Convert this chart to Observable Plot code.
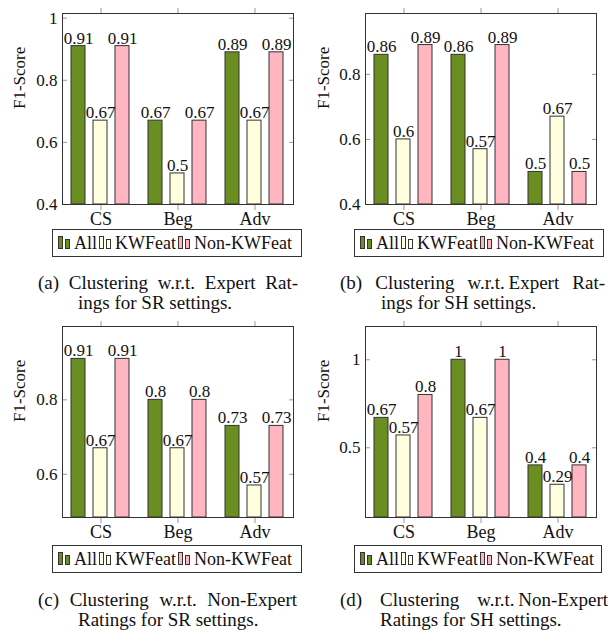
<!DOCTYPE html>
<html><head><meta charset="utf-8">
<script src="https://cdn.jsdelivr.net/npm/d3@7"></script>
<script src="https://cdn.jsdelivr.net/npm/@observablehq/plot@0.6"></script>
<style>
body{margin:0;background:#fff;font-family:"Liberation Serif","DejaVu Serif",serif;color:#111}
#root{position:relative;width:608px;height:635px;overflow:hidden}
.panel{position:absolute;width:304px;height:322px}
.panel svg{position:absolute;left:0;top:0;overflow:visible}
.legend{position:absolute;height:28px;border:1px solid #333;box-sizing:border-box;display:flex;align-items:center;padding-left:5px;font-size:18px;white-space:nowrap}
.ic{display:inline-flex;align-items:flex-end;height:13px;margin-right:4px;margin-top:-2px}
.ic i{display:inline-block;border:1px solid #333;box-sizing:border-box;width:5px}
.ic i+i{margin-left:2px}
.lt{margin-right:2px}
.caption{position:absolute;font-size:19px;line-height:20px}
.caption .l1{text-align:justify;text-align-last:justify;white-space:normal}
.caption .l2{white-space:nowrap}
</style></head><body><div id="root"></div>
<script>
// ---- data ----
const categories = ["CS", "Beg", "Adv"];
const seriesNames = ["All", "KWFeat", "Non-KWFeat"];
const seriesColors = ["#6b8e23", "#ffffe0", "#ffb6c1"];

// values per series, in category order CS, Beg, Adv
const a_All = [0.91, 0.67, 0.89];
const a_KWFeat = [0.67, 0.5, 0.67];
const a_NonKWFeat = [0.91, 0.67, 0.89];

const b_All = [0.86, 0.86, 0.5];
const b_KWFeat = [0.6, 0.57, 0.67];
const b_NonKWFeat = [0.89, 0.89, 0.5];

const c_All = [0.91, 0.8, 0.73];
const c_KWFeat = [0.67, 0.67, 0.57];
const c_NonKWFeat = [0.91, 0.8, 0.73];

const d_All = [0.67, 1, 0.4];
const d_KWFeat = [0.57, 0.67, 0.29];
const d_NonKWFeat = [0.8, 1, 0.4];

const yTicksA = [0.4, 0.6, 0.8, 1];
const yTicksB = [0.4, 0.6, 0.8];
const yTicksC = [0.6, 0.8];
const yTicksD = [0.5, 1];

const yLabel = "F1-Score";
const captionLine1 = ["(a) Clustering w.r.t. Expert Rat-", "(b) Clustering w.r.t.\u2009Expert Rat-", "(c) Clustering w.r.t. Non-Expert", "(d) Clustering w.r.t.\u2009Non-Expert"];
const captionLine2 = ["ings for SR settings.", "ings for SH settings.", "Ratings for SR settings.", "Ratings for SH settings."];

// ---- layout ----
const panels = [
  {series: [a_All, a_KWFeat, a_NonKWFeat], ticks: yTicksA, domain: [0.4, 1.015], left: 0, top: 0, ml: 61, mr: 11, legL: 52, legT: 229, legW: 250, capL: 38, capW: 260, indent: 40, capT: 273},
  {series: [b_All, b_KWFeat, b_NonKWFeat], ticks: yTicksB, domain: [0.4, 0.987], left: 304, top: 0, ml: 60, mr: 11, legL: 50, legT: 229, legW: 250, capL: 36, capW: 265, indent: 41, capT: 273},
  {series: [c_All, c_KWFeat, c_NonKWFeat], ticks: yTicksC, domain: [0.484, 0.997], left: 0, top: 313, ml: 61, mr: 11, legL: 52, legT: 232, legW: 250, capL: 38, capW: 259, indent: 40, capT: 277},
  {series: [d_All, d_KWFeat, d_NonKWFeat], ticks: yTicksD, domain: [0.104, 1.189], left: 304, top: 313, ml: 60, mr: 11, legL: 50, legT: 232, legW: 248, capL: 36, capW: 268, indent: 40, capT: 277}
];

const root = document.getElementById("root");
const fmt = v => String(v);

panels.forEach((p, k) => {
  const rows = [];
  categories.forEach((cat, i) => {
    seriesNames.forEach((s, j) => rows.push({cat, series: s, value: p.series[j][i]}));
  });
  const ymin = p.domain[0];
  const chart = Plot.plot({
    width: 304,
    height: 231,
    marginLeft: p.ml,
    marginRight: p.mr,
    marginTop: 13,
    marginBottom: 27,
    style: {fontFamily: "Liberation Serif, serif", fontSize: "16px", background: "transparent", color: "#111"},
    fx: {domain: categories, padding: 0, label: null},
    x: {domain: seriesNames, padding: 0.35, axis: null},
    y: {domain: p.domain},
    color: {domain: seriesNames, range: seriesColors},
    marks: [
      Plot.axisFx({anchor: "top", tickSize: 6, fill: "none", stroke: "#999", label: null}),
      Plot.axisFx({anchor: "bottom", tickSize: 6, tickPadding: 2, stroke: "#999", fill: "#111", fontSize: 18, label: null}),
      Plot.axisY({anchor: "left", ticks: p.ticks, tickSize: 0, tickPadding: 5, tickFormat: fmt, fontSize: 17, fill: "#111", label: null}),
      Plot.axisY({anchor: "left", ticks: p.ticks, tickSize: 5, dx: 5, fill: "none", stroke: "#999", label: null}),
      Plot.axisY({anchor: "right", ticks: p.ticks, tickSize: 5, dx: -5, fill: "none", stroke: "#999", label: null}),
      Plot.barY(rows, {fx: "cat", x: "series", y1: () => ymin, y2: "value", fill: "series", stroke: "#333", strokeWidth: 1}),
      Plot.text(rows, {fx: "cat", x: "series", y: "value", text: d => fmt(d.value), lineAnchor: "bottom", dy: -2.5, fontSize: 17, fill: "#111"}),
      Plot.text([yLabel], {text: d => d, frameAnchor: "left", dx: -(p.ml - 18), rotate: -90, fontSize: 17, fill: "#111", facet: "super"}),
      Plot.frame({stroke: "#333", facet: "super"})
    ]
  });
  const panel = document.createElement("div");
  panel.className = "panel";
  panel.style.left = p.left + "px";
  panel.style.top = p.top + "px";
  panel.appendChild(chart);

  // legend
  const leg = document.createElement("div");
  leg.className = "legend";
  leg.style.left = p.legL + "px";
  leg.style.top = p.legT + "px";
  leg.style.width = p.legW + "px";
  seriesNames.forEach((s, j) => {
    const ic = document.createElement("span");
    ic.className = "ic";
    ic.innerHTML = `<i style="background:${seriesColors[j]};height:13px"></i><i style="background:${seriesColors[j]};height:10px"></i>`;
    const t = document.createElement("span");
    t.className = "lt";
    t.textContent = s;
    leg.appendChild(ic);
    leg.appendChild(t);
  });
  panel.appendChild(leg);

  // caption
  const cap = document.createElement("div");
  cap.className = "caption";
  cap.style.left = p.capL + "px";
  cap.style.top = p.capT + "px";
  cap.style.width = p.capW + "px";
  const l1 = document.createElement("div");
  l1.className = "l1";
  l1.textContent = captionLine1[k];
  const l2 = document.createElement("div");
  l2.className = "l2";
  l2.style.paddingLeft = p.indent + "px";
  l2.textContent = captionLine2[k];
  cap.appendChild(l1);
  cap.appendChild(l2);
  panel.appendChild(cap);

  root.appendChild(panel);
});
</script>
</body></html>
